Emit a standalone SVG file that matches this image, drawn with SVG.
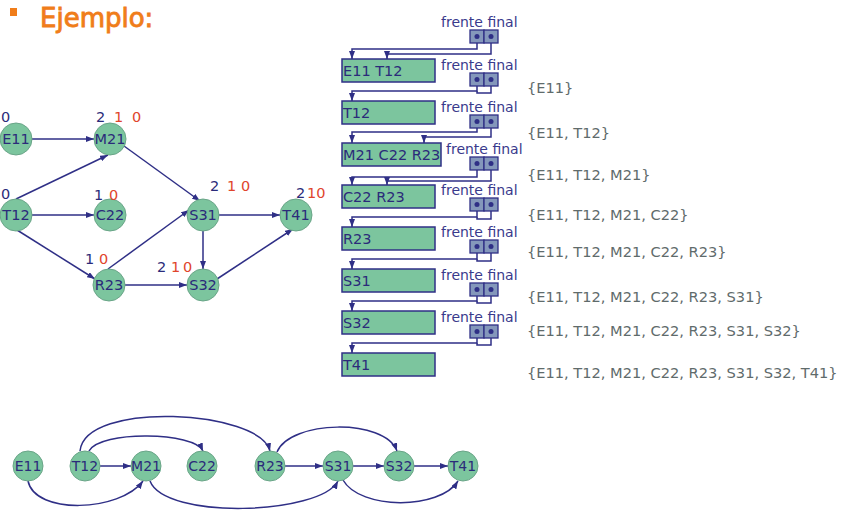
<svg xmlns="http://www.w3.org/2000/svg" width="843" height="514" viewBox="0 0 843 514">
<style>
.nd{fill:#7cc59e;stroke:#6aa588;stroke-width:1}
.nt{font-family:"DejaVu Sans",sans-serif;font-size:14.5px;fill:#2b2b7a;text-anchor:middle}
.bt{font-size:14px}
.ed{fill:none;stroke:#2f2f86;stroke-width:1.5;marker-end:url(#ah)}
.ln{fill:none;stroke:#2f2f86;stroke-width:1.5}
.lb{font-family:"DejaVu Sans",sans-serif;font-size:14.5px;fill:#2b2b7a}
.rd{fill:#e0442c}
.rc{fill:#7cc59e;stroke:#2f2f86;stroke-width:1.5}
.rt{font-family:"DejaVu Sans",sans-serif;font-size:14.5px;fill:#2b2b7a}
.pb{fill:#8497bb;stroke:#2f2f86;stroke-width:1.3}
.dt{fill:#2f2f86}
.ff{font-family:"DejaVu Sans",sans-serif;font-size:14px;fill:#3a3a8c}
.st{font-family:"DejaVu Sans",sans-serif;font-size:14.6px;fill:#5f6b6b}
</style>
<defs>
<marker id="ah" markerWidth="8" markerHeight="6" refX="8" refY="3" orient="auto" markerUnits="userSpaceOnUse">
<path d="M0,0 L8,3 L0,6 z" fill="#2f2f86"/>
</marker>
</defs>

<g id="title">
<rect x="10" y="8" width="7" height="8" fill="#f07d1a"/>
<text x="40" y="27" font-family="DejaVu Sans,sans-serif" font-size="26" fill="#f07d1a" stroke="#f07d1a" stroke-width="0.9">Ejemplo:</text>
</g>

<g id="graph-edges">
<path class="ed" d="M32,139 L94,139"/>
<path class="ed" d="M16,199 L108,155"/>
<path class="ed" d="M32,215 L94,215"/>
<path class="ed" d="M17,230 L95,279"/>
<path class="ed" d="M124,146 L200,201"/>
<path class="ed" d="M108,269 L189,210"/>
<path class="ed" d="M125,285 L187,285"/>
<path class="ed" d="M203,231 L203,269"/>
<path class="ed" d="M219,215 L280,215"/>
<path class="ed" d="M217,279 L293,229"/>
</g>

<g id="g-E11"><circle class="nd" cx="16" cy="139" r="16"/><text class="nt" x="16" y="144">E11</text><text class="lb" x="1" y="122">0</text></g>
<g id="g-M21"><circle class="nd" cx="110" cy="139" r="16"/><text class="nt" x="110" y="144">M21</text><text class="lb" x="96" y="122">2</text><text class="lb rd" x="114" y="122">1</text><text class="lb rd" x="132" y="122">0</text></g>
<g id="g-T12"><circle class="nd" cx="16" cy="215" r="16"/><text class="nt" x="16" y="220">T12</text><text class="lb" x="1" y="199">0</text></g>
<g id="g-C22"><circle class="nd" cx="110" cy="215" r="16"/><text class="nt" x="110" y="220">C22</text><text class="lb" x="94" y="200">1</text><text class="lb rd" x="109" y="200">0</text></g>
<g id="g-S31"><circle class="nd" cx="203" cy="215" r="16"/><text class="nt" x="203" y="220">S31</text><text class="lb" x="210" y="191">2</text><text class="lb rd" x="227" y="191">1</text><text class="lb rd" x="241" y="191">0</text></g>
<g id="g-T41"><circle class="nd" cx="296" cy="215" r="16"/><text class="nt" x="296" y="220">T41</text><text class="lb" x="296" y="198">2</text><text class="lb rd" x="307" y="198">10</text></g>
<g id="g-R23"><circle class="nd" cx="109" cy="285" r="16"/><text class="nt" x="109" y="290">R23</text><text class="lb" x="85" y="264">1</text><text class="lb rd" x="99" y="264">0</text></g>
<g id="g-S32"><circle class="nd" cx="203" cy="285" r="16"/><text class="nt" x="203" y="290">S32</text><text class="lb" x="157" y="272">2</text><text class="lb rd" x="171" y="272">1</text><text class="lb rd" x="183" y="272">0</text></g>

<g id="queue-pointers">
<path class="ln" d="M477,36.5 V49 H352 V59" marker-end="url(#ah)"/>
<path class="ln" d="M491,36.5 V54 H387 V59" marker-end="url(#ah)"/>
<path class="ln" d="M477,79.5 V91 H352 V101" marker-end="url(#ah)"/>
<path class="ln" d="M491,79.5 V93 H477 V91"/>
<path class="ln" d="M477,121.5 V132 H352 V143" marker-end="url(#ah)"/>
<path class="ln" d="M491,121.5 V137 H424 V143" marker-end="url(#ah)"/>
<path class="ln" d="M477,163.5 V177 H352 V185" marker-end="url(#ah)"/>
<path class="ln" d="M491,163.5 V181 H387 V185" marker-end="url(#ah)"/>
<path class="ln" d="M477,204.5 V217 H352 V227" marker-end="url(#ah)"/>
<path class="ln" d="M491,204.5 V219 H477 V217"/>
<path class="ln" d="M477,246.5 V259 H352 V269" marker-end="url(#ah)"/>
<path class="ln" d="M491,246.5 V261 H477 V259"/>
<path class="ln" d="M477,289.5 V301 H352 V311" marker-end="url(#ah)"/>
<path class="ln" d="M491,289.5 V303 H477 V301"/>
<path class="ln" d="M477,331.5 V343 H352 V353" marker-end="url(#ah)"/>
<path class="ln" d="M491,331.5 V345 H477 V343"/>
</g>

<g id="ptr0"><text class="ff" x="441" y="27">frente final</text><rect class="pb" x="470" y="30" width="14" height="13"/><rect class="pb" x="484" y="30" width="14" height="13"/><circle class="dt" cx="477" cy="36.5" r="2.5"/><circle class="dt" cx="491" cy="36.5" r="2.5"/></g>
<g id="ptr1"><text class="ff" x="441" y="70">frente final</text><rect class="pb" x="470" y="73" width="14" height="13"/><rect class="pb" x="484" y="73" width="14" height="13"/><circle class="dt" cx="477" cy="79.5" r="2.5"/><circle class="dt" cx="491" cy="79.5" r="2.5"/></g>
<g id="ptr2"><text class="ff" x="441" y="112">frente final</text><rect class="pb" x="470" y="115" width="14" height="13"/><rect class="pb" x="484" y="115" width="14" height="13"/><circle class="dt" cx="477" cy="121.5" r="2.5"/><circle class="dt" cx="491" cy="121.5" r="2.5"/></g>
<g id="ptr3"><text class="ff" x="446" y="154">frente final</text><rect class="pb" x="470" y="157" width="14" height="13"/><rect class="pb" x="484" y="157" width="14" height="13"/><circle class="dt" cx="477" cy="163.5" r="2.5"/><circle class="dt" cx="491" cy="163.5" r="2.5"/></g>
<g id="ptr4"><text class="ff" x="441" y="195">frente final</text><rect class="pb" x="470" y="198" width="14" height="13"/><rect class="pb" x="484" y="198" width="14" height="13"/><circle class="dt" cx="477" cy="204.5" r="2.5"/><circle class="dt" cx="491" cy="204.5" r="2.5"/></g>
<g id="ptr5"><text class="ff" x="441" y="237">frente final</text><rect class="pb" x="470" y="240" width="14" height="13"/><rect class="pb" x="484" y="240" width="14" height="13"/><circle class="dt" cx="477" cy="246.5" r="2.5"/><circle class="dt" cx="491" cy="246.5" r="2.5"/></g>
<g id="ptr6"><text class="ff" x="441" y="280">frente final</text><rect class="pb" x="470" y="283" width="14" height="13"/><rect class="pb" x="484" y="283" width="14" height="13"/><circle class="dt" cx="477" cy="289.5" r="2.5"/><circle class="dt" cx="491" cy="289.5" r="2.5"/></g>
<g id="ptr7"><text class="ff" x="441" y="322">frente final</text><rect class="pb" x="470" y="325" width="14" height="13"/><rect class="pb" x="484" y="325" width="14" height="13"/><circle class="dt" cx="477" cy="331.5" r="2.5"/><circle class="dt" cx="491" cy="331.5" r="2.5"/></g>

<g id="q0"><rect class="rc" x="342" y="59" width="93" height="23"/><text class="rt" x="343" y="76">E11 T12</text></g>
<g id="q1"><rect class="rc" x="342" y="101" width="93" height="23"/><text class="rt" x="343" y="118">T12</text></g>
<g id="q2"><rect class="rc" x="342" y="143" width="99" height="23"/><text class="rt" x="343" y="160">M21 C22 R23</text></g>
<g id="q3"><rect class="rc" x="342" y="185" width="93" height="23"/><text class="rt" x="343" y="202">C22 R23</text></g>
<g id="q4"><rect class="rc" x="342" y="227" width="93" height="23"/><text class="rt" x="343" y="244">R23</text></g>
<g id="q5"><rect class="rc" x="342" y="269" width="93" height="23"/><text class="rt" x="343" y="286">S31</text></g>
<g id="q6"><rect class="rc" x="342" y="311" width="93" height="23"/><text class="rt" x="343" y="328">S32</text></g>
<g id="q7"><rect class="rc" x="342" y="353" width="93" height="23"/><text class="rt" x="343" y="370">T41</text></g>

<g id="sets">
<text class="st" x="527" y="93">{E11}</text>
<text class="st" x="527" y="138">{E11, T12}</text>
<text class="st" x="527" y="180">{E11, T12, M21}</text>
<text class="st" x="527" y="220">{E11, T12, M21, C22}</text>
<text class="st" x="527" y="257">{E11, T12, M21, C22, R23}</text>
<text class="st" x="527" y="302">{E11, T12, M21, C22, R23, S31}</text>
<text class="st" x="527" y="336">{E11, T12, M21, C22, R23, S31, S32}</text>
<text class="st" x="527" y="378">{E11, T12, M21, C22, R23, S31, S32, T41}</text>
</g>

<g id="bottom-edges">
<path class="ed" d="M100,466 L131,466"/>
<path class="ed" d="M285,466 L323,466"/>
<path class="ed" d="M353,466 L384,466"/>
<path class="ed" d="M414,466 L448,466"/>
<path class="ed" d="M28,481 C35,515 120,512 143,481"/>
<path class="ed" d="M89,451 C100,430 195,432 203,451"/>
<path class="ed" d="M80,451 C85,400 260,410 270,451"/>
<path class="ed" d="M150,481 C165,520 320,515 338,481"/>
<path class="ed" d="M277,452 C290,420 385,418 397,451"/>
<path class="ed" d="M343,480 C360,510 440,510 458,481"/>
</g>

<g id="b-E11"><circle class="nd" cx="28" cy="466" r="15"/><text class="nt bt" x="28" y="471">E11</text></g>
<g id="b-T12"><circle class="nd" cx="85" cy="466" r="15"/><text class="nt bt" x="85" y="471">T12</text></g>
<g id="b-M21"><circle class="nd" cx="146" cy="466" r="15"/><text class="nt bt" x="146" y="471">M21</text></g>
<g id="b-C22"><circle class="nd" cx="202" cy="466" r="15"/><text class="nt bt" x="202" y="471">C22</text></g>
<g id="b-R23"><circle class="nd" cx="270" cy="466" r="15"/><text class="nt bt" x="270" y="471">R23</text></g>
<g id="b-S31"><circle class="nd" cx="338" cy="466" r="15"/><text class="nt bt" x="338" y="471">S31</text></g>
<g id="b-S32"><circle class="nd" cx="399" cy="466" r="15"/><text class="nt bt" x="399" y="471">S32</text></g>
<g id="b-T41"><circle class="nd" cx="463" cy="466" r="15"/><text class="nt bt" x="463" y="471">T41</text></g>
</svg>
